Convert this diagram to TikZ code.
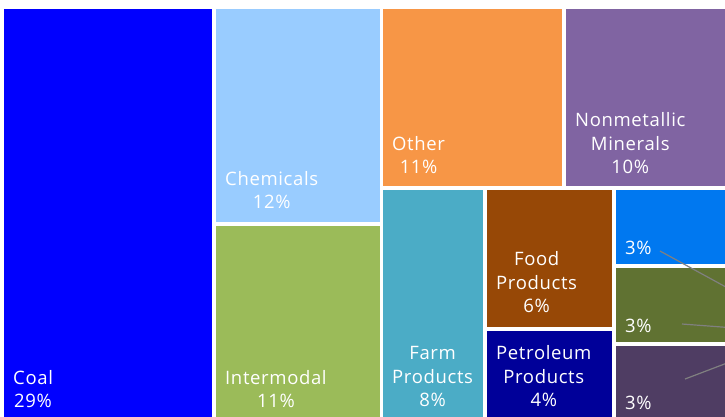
\documentclass[tikz,border=0pt]{standalone}
\usepackage{fontspec}
\setmainfont{Open Sans}[LetterSpace=3.5]
\usepackage{tikz}

\definecolor{coalblue}{HTML}{0000FF}
\definecolor{chemblue}{HTML}{99CCFF}
\definecolor{intergreen}{HTML}{9BBB59}
\definecolor{otherorange}{HTML}{F79646}
\definecolor{mineralpurple}{HTML}{8064A2}
\definecolor{farmteal}{HTML}{4BACC6}
\definecolor{foodbrown}{HTML}{974806}
\definecolor{petroblue}{HTML}{000099}
\definecolor{smallblue}{HTML}{0078F0}
\definecolor{smallolive}{HTML}{607232}
\definecolor{smallplum}{HTML}{4F3D63}

\tikzset{
  share/.style={text=white, font=\fontsize{18.5}{23.5}\selectfont, align=center,
    anchor=south west, inner sep=0pt},
  leader/.style={draw=gray, line width=1.2pt}
}

\begin{document}
\begin{tikzpicture}[x=1pt, y=-1pt]
    \useasboundingbox (0,0) rectangle (725,416);
    \clip (0,0) rectangle (725,416);

    % draw boxes
    \foreach \xa/\ya/\xb/\yb/\c in {
      4/9/212/425/coalblue, 216/9/380/222/chemblue, 216/226/380/425/intergreen,
      383/9/562/186/otherorange, 566/9/730/186/mineralpurple,
      383/190/483/425/farmteal, 487/190/612/327/foodbrown, 487/331/612/425/petroblue,
      616/190/730/264/smallblue, 616/268/730/342/smallolive, 616/346/730/425/smallplum}
    \fill[fill=\c] (\xa,\ya) rectangle (\xb,\yb);

    % draw labels
    \node[share] (coal) at (13,408) {Coal\\29\%};
    \node[share] (chem) at (225,209) {Chemicals\\12\%};
    \node[share] (inter) at (225,408) {Intermodal\\11\%};
    \node[share] (other) at (392,174) {Other\\11\%};
    \node[share] (mineral) at (575,174) {Nonmetallic\\Minerals\\10\%};
    \node[share] (farm) at (392,407) {Farm\\Products\\8\%};
    \node[share] (food) at (496,313) {Food\\Products\\6\%};
    \node[share] (petro) at (496,407) {Petroleum\\Products\\4\%};
    \node[share] (smalla) at (625,255) {3\%};
    \node[share] (smallb) at (625,333) {3\%};
    \node[share] (smallc) at (625,410) {3\%};

    % draw leader lines
    \coordinate (la) at (660,251);
    \coordinate (lb) at (682,324);
    \coordinate (lc) at (685,379);
    \coordinate (ra) at (735,292);
    \coordinate (rb) at (735,328);
    \coordinate (rc) at (735,360);
    \draw[leader] (la) -- (ra);
    \draw[leader] (lb) -- (rb);
    \draw[leader] (lc) -- (rc);
\end{tikzpicture}
\end{document}
